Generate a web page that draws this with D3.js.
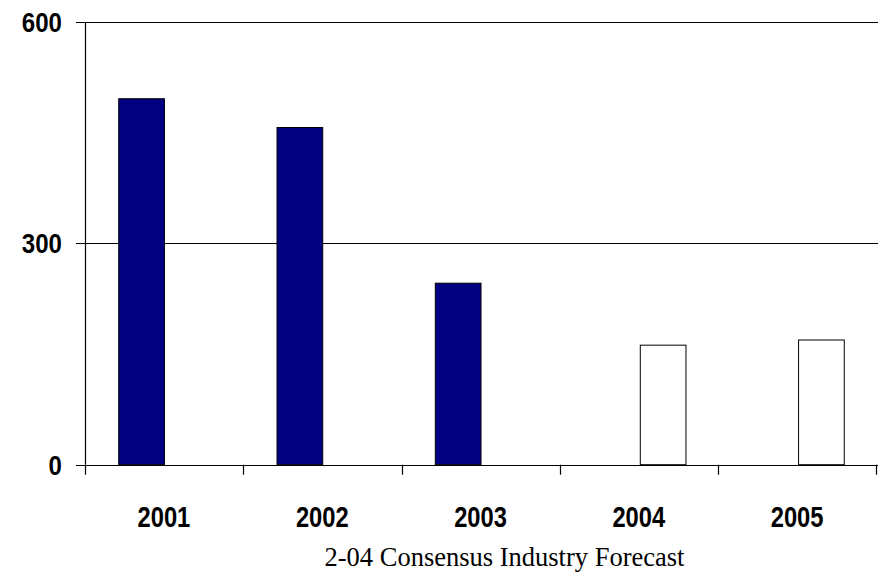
<!DOCTYPE html>
<html>
<head>
<meta charset="utf-8">
<script src="https://cdn.jsdelivr.net/npm/d3@7"></script>
<style>
  html, body { margin: 0; padding: 0; background: #fff; }
  svg { display: block; }
</style>
</head>
<body>
<svg id="chart" width="878" height="573"></svg>
<script>
const years = ["2001", "2002", "2003", "2004", "2005"];
const seriesNames = ["Actual", "Forecast"];
const actual = [496, 457, 246, null, null];
const forecast = [null, null, null, 162, 169];
const yTicks = [0, 300, 600];
const caption = "2-04 Consensus Industry Forecast";

const svg = d3.select("#chart");
const plotLeft = 85, plotRight = 878, plotTop = 22, plotBottom = 464.7;

const x0 = d3.scaleBand().domain(years).range([plotLeft, plotRight]).paddingInner(0.41).paddingOuter(0.21);
const x1 = d3.scaleBand().domain(seriesNames).range([0, x0.bandwidth()]);
const y = d3.scaleLinear().domain([0, 600]).range([plotBottom, plotTop]);

const labelFont = "'Liberation Sans', Arial, sans-serif";

// gridlines + y ticks
svg.append("g").selectAll("line").data(yTicks).join("line")
  .attr("x1", plotLeft - 9).attr("x2", plotRight)
  .attr("y1", d => Math.round(y(d)) + 0.5).attr("y2", d => Math.round(y(d)) + 0.5)
  .attr("stroke", "#000").attr("stroke-width", 1.2);

svg.append("g").selectAll("text").data(yTicks).join("text")
  .attr("transform", d => `translate(62,${y(d) + 10}) scale(0.86,1)`)
  .attr("text-anchor", "end")
  .attr("font-family", labelFont).attr("font-weight", "bold").attr("font-size", 28)
  .text(d => d);

// y axis line
svg.append("line").attr("x1", plotLeft + 0.5).attr("x2", plotLeft + 0.5)
  .attr("y1", plotTop).attr("y2", plotBottom).attr("stroke", "#000").attr("stroke-width", 1.2);

// bars
const rows = years.map((yr, i) => ({ year: yr, values: [
  { s: "Actual", v: actual[i] }, { s: "Forecast", v: forecast[i] }
]}));
const g = svg.append("g").selectAll("g").data(rows).join("g")
  .attr("transform", d => `translate(${x0(d.year)},0)`);
g.selectAll("rect").data(d => d.values.filter(e => e.v != null)).join("rect")
  .attr("x", d => x1(d.s) + 0.5)
  .attr("width", x1.bandwidth() - 1)
  .attr("y", d => y(d.v))
  .attr("height", d => y(0) - y(d.v))
  .attr("fill", d => d.s === "Actual" ? "#000080" : "#ffffff")
  .attr("stroke", "#000").attr("stroke-width", 1);

// x axis baseline drawn above bars
svg.append("line").attr("x1", plotLeft - 9).attr("x2", plotRight)
  .attr("y1", Math.round(y(0)) + 0.5).attr("y2", Math.round(y(0)) + 0.5)
  .attr("stroke", "#000").attr("stroke-width", 1.2);

// x ticks at category boundaries
const step = x0.step();
const bounds = years.map((d, i) => plotLeft + i * step).concat([plotLeft + years.length * step]);
svg.append("g").selectAll("line").data(bounds).join("line")
  .attr("x1", d => Math.round(d) + 0.5).attr("x2", d => Math.round(d) + 0.5)
  .attr("y1", plotBottom).attr("y2", plotBottom + 10)
  .attr("stroke", "#000").attr("stroke-width", 1.2);

// x labels
svg.append("g").selectAll("text").data(years).join("text")
  .attr("transform", d => `translate(${x0(d) + x0.bandwidth() / 2 - 1},527) scale(0.79,1)`)
  .attr("text-anchor", "middle")
  .attr("font-family", labelFont).attr("font-weight", "bold").attr("font-size", 30)
  .text(d => d);

// caption
svg.append("text").attr("x", 504.5).attr("y", 566)
  .attr("text-anchor", "middle")
  .attr("font-family", "'Liberation Serif', 'Times New Roman', serif")
  .attr("font-size", 26.5)
  .text(caption);
</script>
</body>
</html>
